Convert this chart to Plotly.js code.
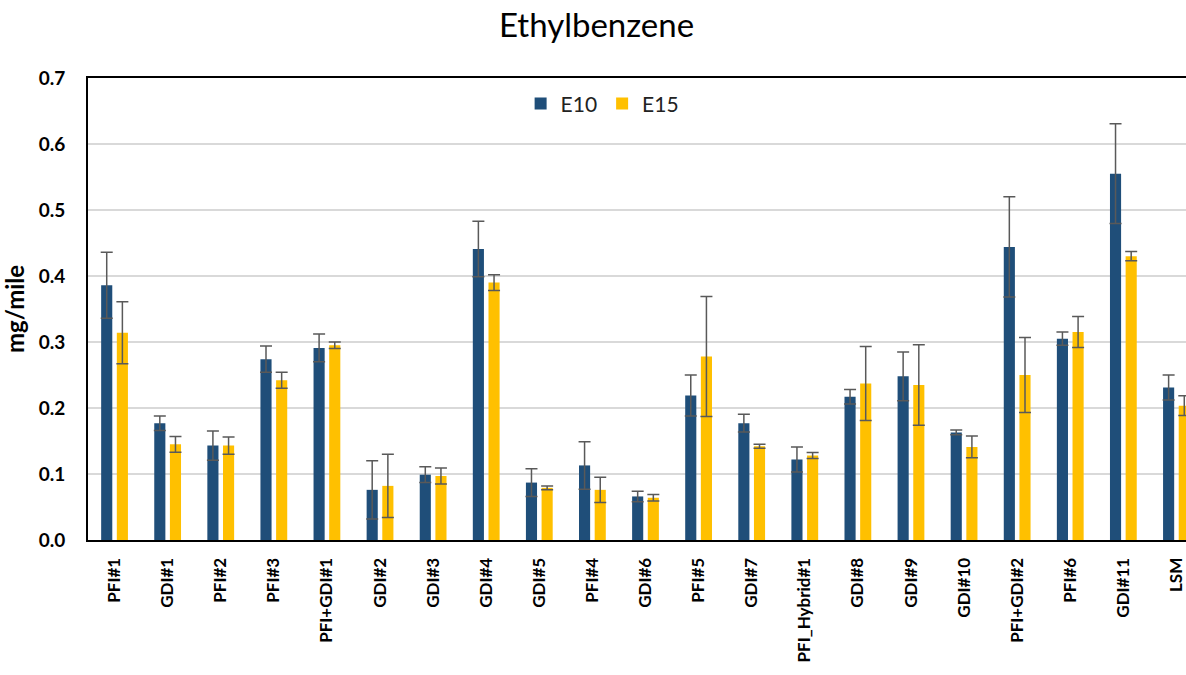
<!DOCTYPE html>
<html>
<head>
<meta charset="utf-8">
<script src="https://cdn.plot.ly/plotly-3.0.1.min.js"></script>
<style>
html,body{margin:0;padding:0;overflow:hidden;background:#fff;}
#chart{width:1215px;height:675px;}
</style>
</head>
<body>
<div id="chart"></div>
<script>
const categories = ["PFI#1","GDI#1","PFI#2","PFI#3","PFI+GDI#1","GDI#2","GDI#3","GDI#4","GDI#5","PFI#4","GDI#6","PFI#5","GDI#7","PFI_Hybrid#1","GDI#8","GDI#9","GDI#10","PFI+GDI#2","PFI#6","GDI#11","LSM"];
const e10 = [0.386,0.177,0.143,0.274,0.291,0.076,0.099,0.441,0.087,0.113,0.066,0.219,0.177,0.122,0.217,0.248,0.163,0.444,0.305,0.555,0.231];
const e10err = [0.050,0.011,0.022,0.020,0.021,0.044,0.012,0.042,0.021,0.036,0.008,0.031,0.0135,0.019,0.011,0.037,0.0035,0.076,0.010,0.0755,0.019];
const e15 = [0.314,0.145,0.143,0.242,0.295,0.082,0.097,0.390,0.079,0.076,0.064,0.278,0.142,0.128,0.237,0.235,0.141,0.250,0.315,0.430,0.2035];
const e15err = [0.047,0.012,0.013,0.012,0.005,0.048,0.012,0.012,0.003,0.019,0.005,0.091,0.003,0.0045,0.056,0.061,0.0165,0.057,0.0235,0.007,0.015];

const errStyle = (arr) => ({type:'data', array:arr, visible:true, color:'#595959', thickness:1.5, width:6});
const font = "Lato, 'Open Sans', sans-serif";

const traces = [
  {type:'bar', name:'E10', x:categories, y:e10, marker:{color:'#1F4E79'}, error_y:errStyle(e10err)},
  {type:'bar', name:'E15', x:categories, y:e15, marker:{color:'#FFC000'}, error_y:errStyle(e15err)}
];

const layout = {
  width:1215, height:675,
  margin:{l:88, r:12, t:78, b:135},
  paper_bgcolor:'#fff', plot_bgcolor:'#fff',
  title:{text:'Ethylbenzene', x:0.491, xanchor:'center', y:0.963, yanchor:'middle', font:{family:font, size:33, color:'#000'}},
  barmode:'group', bargap:0.41, bargroupgap:0.29,
  showlegend:true,
  legend:{orientation:'h', x:0.388, xanchor:'left', y:0.944, yanchor:'middle', font:{family:font, size:21, color:'#222'}, bgcolor:'rgba(0,0,0,0)', itemwidth:30, traceorder:'normal'},
  xaxis:{type:'category', range:[-0.5,20.5], showline:true, linecolor:'#000', linewidth:2, mirror:true, ticks:'', tickangle:-90, tickfont:{family:font, size:17, color:'#000', weight:'bold'}, ticklabelstandoff:9, showgrid:false, zeroline:false},
  yaxis:{range:[0,0.7], dtick:0.1, tickformat:'.1f', showline:true, linecolor:'#000', linewidth:2, mirror:true, ticks:'', ticklabelstandoff:17, tickfont:{family:font, size:19, color:'#000', weight:'bold'}, showgrid:true, gridcolor:'#D9D9D9', gridwidth:1.5, zeroline:false,
    title:{text:'mg/mile', standoff:14, font:{family:font, size:24, color:'#000', weight:'bold'}}}
};

Plotly.newPlot('chart', traces, layout, {displayModeBar:false, staticPlot:true});
</script>
</body>
</html>
